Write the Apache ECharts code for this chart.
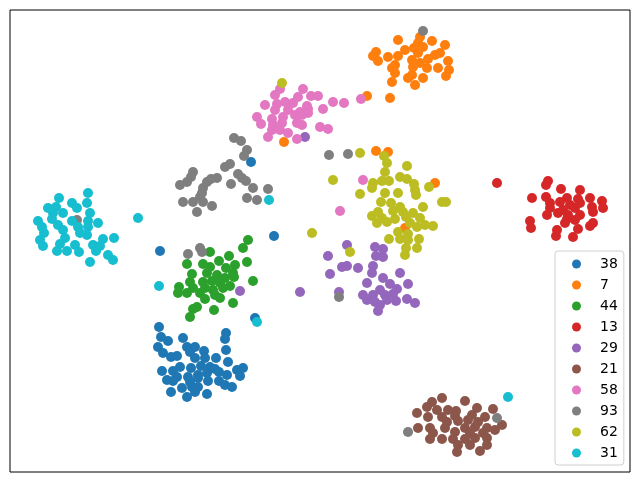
<!DOCTYPE html>
<html>
<head>
<meta charset="utf-8">
<script src="https://cdn.jsdelivr.net/npm/echarts@6/dist/echarts.min.js"></script>
<style>
  html, body { margin: 0; padding: 0; background: #fff; }
  #chart { width: 640px; height: 482px; }
</style>
</head>
<body>
<div id="chart"></div>
<script>
// embedding coordinates (arbitrary units)
var labels = ["38", "7", "44", "13", "29", "21", "58", "93", "62", "31"];
var colors = ["#1f77b4", "#ff7f0e", "#2ca02c", "#d62728", "#9467bd", "#8c564b", "#e377c2", "#7f7f7f", "#bcbd22", "#17becf"];

var pts38 = [
  [149,145],[151,135],[158,131],[173,134],[148,125],[153,119],[161,115],[167,116],[177,125],[185,125],
  [180,120],[194,121],[185,114],[195,114],[206,114],[216,139],[215,133],[216,122],[218,110],[233,104],
  [227,102],[230,96],[152,101],[163,101],[170,105],[181,104],[191,106],[200,105],[205,103],[209,100],
  [167,95],[157,92],[163,91],[178,95],[188,97],[197,99],[217,97],[180,90],[188,94],[198,91],
  [209,91],[215,87],[222,85],[172,84],[182,85],[188,85],[161,80],[177,75],[197,78],[185,80],
  [245,154],[150,221],[264,236],[241,310]
];
var pts7 = [
  [410,435],[388,432],[408,429],[422,431],[435,427],[404,424],[413,425],[395,422],[366,420],[363,416],
  [378,415],[388,416],[408,419],[425,417],[430,419],[368,411],[402,412],[418,413],[438,411],[385,407],
  [403,405],[410,409],[417,404],[382,404],[428,404],[439,402],[385,399],[402,397],[413,394],[436,396],
  [398,394],[382,390],[405,387],[357,376],[380,374],
  [274,330],[366,321],[378,320],[425,289],[395,244]
];
var pts44 = [
  [238,232],[233,224],[200,220],[219,216],[209,211],[177,208],[193,208],[200,205],[216,204],[225,207],
  [237,210],[223,199],[182,198],[197,199],[207,197],[215,194],[224,195],[180,190],[193,190],[202,191],
  [210,189],[220,186],[243,191],[169,185],[183,184],[195,184],[203,182],[213,184],[168,179],[177,179],
  [190,179],[205,177],[195,173],[210,174],[223,169],[187,165],[183,163],[204,162],[180,155]
];
var pts13 = [
  [487,289],[538,291],[536,287],[551,283],[570,282],[522,274],[536,275],[557,274],[568,273],[580,274],
  [592,271],[540,269],[550,270],[560,267],[570,269],[582,265],[593,264],[540,264],[553,262],[565,264],
  [583,260],[537,257],[548,259],[558,257],[570,257],[520,251],[557,253],[565,252],[555,249],[583,249],
  [521,244],[547,242],[568,243],[580,246],[546,236],[563,235]
];
var pts29 = [
  [337,227],[318,216],[365,225],[373,223],[373,215],[366,216],[332,205],[337,206],[348,204],[363,206],
  [320,198],[362,199],[373,194],[390,199],[357,189],[380,188],[398,188],[290,180],[329,180],[370,182],
  [387,183],[353,177],[363,177],[375,177],[383,178],[365,170],[377,172],[386,171],[397,173],[405,169],
  [368,161],[357,172],[370,167],
  [230,181],[295,335]
];
var pts21 = [
  [432,74],[422,70],[455,71],[417,65],[427,62],[438,62],[446,61],[467,64],[483,63],[407,59],
  [418,55],[432,55],[445,56],[462,57],[475,55],[437,50],[448,51],[458,52],[468,50],[492,47],
  [408,44],[420,44],[435,44],[455,44],[465,45],[477,44],[485,42],[423,39],[445,40],[460,39],
  [473,39],[420,33],[432,33],[443,33],[455,33],[465,34],[477,34],[448,27],[460,27],[477,27],
  [447,20],[470,21]
];
var pts58 = [
  [270,383],[265,377],[293,383],[288,375],[301,376],[308,376],[255,367],[267,368],[275,370],[283,369],
  [297,366],[323,370],[334,369],[351,373],[265,362],[278,362],[290,360],[298,363],[313,363],[247,355],
  [262,353],[273,355],[285,357],[292,357],[298,359],[251,348],[263,347],[272,349],[287,349],[292,347],
  [310,345],[318,343],[262,342],[270,342],[278,339],[258,335],[287,333],
  [353,292],[330,261]
];
var pts93 = [
  [224,334],[231,331],[237,322],[234,316],[215,305],[220,308],[183,300],[181,295],[207,294],[228,298],
  [232,294],[236,291],[170,287],[177,290],[197,290],[201,293],[221,288],[243,284],[258,283],[193,284],
  [192,279],[190,275],[237,274],[247,272],[173,270],[183,270],[193,270],[202,266],[187,260],
  [178,218],[190,224],[192,220],[67,252],[413,441],[319,317],[338,318],[329,175],[398,40],[487,54]
];
var pts62 = [
  [350,319],[374,316],[377,309],[397,306],[375,300],[323,292],[363,289],[372,291],[379,291],[390,295],
  [397,293],[404,288],[419,285],[362,284],[375,279],[388,279],[405,282],[406,277],[350,278],[432,270],
  [436,270],[371,270],[381,269],[390,265],[413,265],[368,260],[383,261],[393,260],[403,259],[362,256],
  [372,254],[385,253],[396,255],[410,254],[367,249],[377,250],[400,249],[407,245],[415,247],[423,246],
  [302,239],[388,240],[398,238],[379,233],[390,233],[398,232],[409,233],[396,224],[407,224],[340,220],
  [395,217],[272,389]
];
var pts31 = [
  [78,279],[49,274],[62,269],[77,269],[38,264],[46,265],[67,264],[43,259],[53,259],[80,259],
  [28,251],[42,253],[62,251],[78,251],[88,249],[32,245],[48,247],[53,242],[68,245],[78,245],
  [34,239],[70,239],[77,237],[55,234],[104,234],[30,232],[93,233],[33,226],[50,228],[65,227],
  [83,227],[90,226],[47,221],[57,221],[69,220],[86,221],[98,217],[103,212],[80,210],
  [128,254],[149,186],[247,150],[259,272],[498,75]
];

var groups = [pts38, pts7, pts44, pts13, pts29, pts21, pts58, pts93, pts62, pts31];

var chart = echarts.init(document.getElementById("chart"));

var series = labels.map(function (name, i) {
  return {
    name: name,
    type: "scatter",
    data: groups[i],
    symbolSize: 10,
    itemStyle: { color: colors[i], opacity: 1 },
    emphasis: { disabled: true },
  };
});

chart.setOption({
  animation: false,
  grid: {
    left: 10,
    right: 10,
    top: 10,
    bottom: 10,
    show: true,
    borderColor: "#000",
    borderWidth: 1,
    backgroundColor: "#fff",
  },
  xAxis: {
    type: "value",
    min: 0,
    max: 620,
    axisLine: { show: false },
    axisTick: { show: false },
    axisLabel: { show: false },
    splitLine: { show: false },
  },
  yAxis: {
    type: "value",
    min: 0,
    max: 462,
    axisLine: { show: false },
    axisTick: { show: false },
    axisLabel: { show: false },
    splitLine: { show: false },
  },
  legend: {
    data: labels,
    orient: "vertical",
    left: 555,
    top: 251,
    icon: "circle",
    itemWidth: 9,
    itemHeight: 9,
    itemGap: 7,
    padding: [6, 6, 5, 17],
    backgroundColor: "rgba(255,255,255,0.8)",
    borderColor: "#d0d0d0",
    borderWidth: 1,
    borderRadius: 3,
    textStyle: {
      fontFamily: "DejaVu Sans",
      fontSize: 14,
      color: "#000",
      padding: [0, 0, 0, 14],
    },
  },
  series: series,
});
</script>
</body>
</html>
